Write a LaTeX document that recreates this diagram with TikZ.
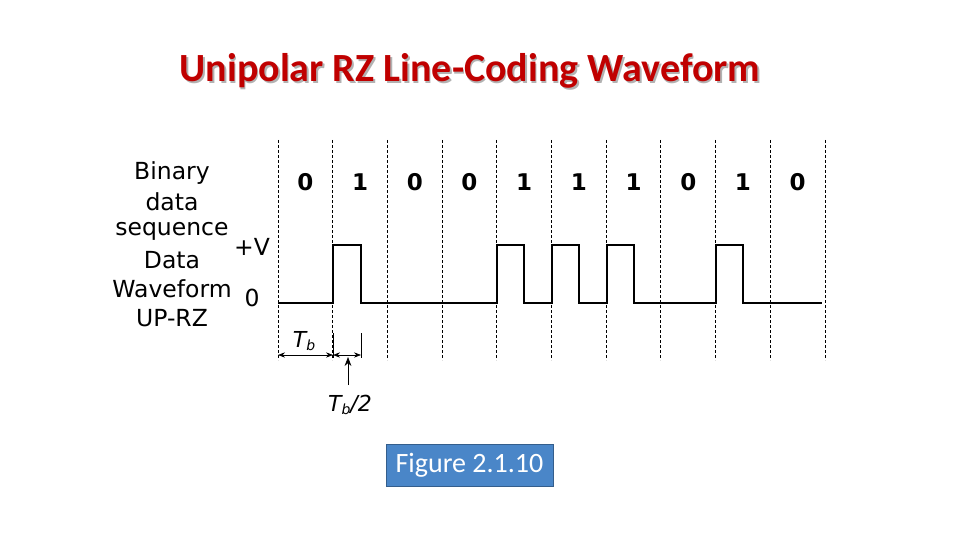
\documentclass[tikz,border=0pt]{standalone}
\usepackage{fontspec}
\setmainfont{DejaVu Sans}
\newfontfamily\carlitofont{Carlito}
\usetikzlibrary{arrows.meta}
\definecolor{titlered}{HTML}{C00000}
\definecolor{figblue}{HTML}{4A86C8}
\begin{document}
\begin{tikzpicture}[x=1pt,y=-1pt,
  grid/.style={densely dashed,line width=0.9pt},
  wave/.style={line width=2pt},
  lbl/.style={font=\fontsize{23.5}{24}\selectfont,inner sep=0},
  bit/.style={font=\bfseries\fontsize{23}{24}\selectfont,inner sep=0},
  dim/.style={{Stealth[length=7pt]}-{Stealth[length=7pt]},line width=0.7pt}]
\useasboundingbox (0,0) rectangle (960,540);
\node[font=\carlitofont\bfseries\fontsize{40}{42}\selectfont,text=gray!60] at (471.5,72.5) {Unipolar RZ Line-Coding Waveform};
\node[font=\carlitofont\bfseries\fontsize{40}{42}\selectfont,text=titlered] (title) at (470,71) {Unipolar RZ Line-Coding Waveform};
\foreach \i in {0,...,10} {
  \coordinate (t\i) at ({278+54.7*\i},140);
  \coordinate (b\i) at ({278+54.7*\i},360);
  \draw[grid] (t\i) -- (b\i);
}
\foreach \b [count=\i from 0] in {0,1,0,0,1,1,1,0,1,0}
  \node[bit] (bit\i) at ({305.35+54.7*\i},182) {\b};
\node[lbl] (l1) at (172,173) {Binary};
\node[lbl] (l2) at (172,202) {data};
\node[lbl] (l3) at (172,231) {sequence};
\node[lbl] (l4) at (172,260) {Data};
\node[lbl] (l5) at (172,289) {Waveform};
\node[lbl] (l6) at (172,318) {UP-RZ};
\node[lbl] (pv) at (252,247) {+V};
\node[lbl] (zr) at (252,298) {0};
\draw[wave] (278,303) -- (333,303) -- (333,245) -- (361,245) -- (361,303)
  -- (497,303) -- (497,245) -- (524,245) -- (524,303)
  -- (552,303) -- (552,245) -- (579,245) -- (579,303)
  -- (607,303) -- (607,245) -- (634,245) -- (634,303)
  -- (716,303) -- (716,245) -- (743,245) -- (743,303) -- (822,303);
\coordinate (d0) at (278,355); \coordinate (d1) at (333,355); \coordinate (d2) at (361,355);
\draw[line width=0.7pt] (361,333) -- (361,358);
\draw[line width=0.7pt] (333,333) -- (333,358);
\draw[dim] (d0) -- (d1);
\draw[dim] (d1) -- (d2);
\node[font=\itshape\fontsize{22}{24}\selectfont] (tb) at (304,341) {T\raisebox{-0.3ex}{\fontsize{14}{14}\selectfont b}};
\coordinate (ar) at (348,385);
\draw[-{Stealth[length=9pt]},line width=0.7pt] (ar) -- (348,357);
\node[font=\itshape\fontsize{22}{24}\selectfont] (tb2) at (350,405) {T\raisebox{-0.3ex}{\fontsize{14}{14}\selectfont b}/2};
\node[fill=figblue,draw=figblue!70!black,text=white,minimum width=167pt,minimum height=42pt,font=\carlitofont\fontsize{28}{30}\selectfont,inner sep=0] (fig) at (469.5,465) {Figure 2.1.10};
\end{tikzpicture}
\end{document}
